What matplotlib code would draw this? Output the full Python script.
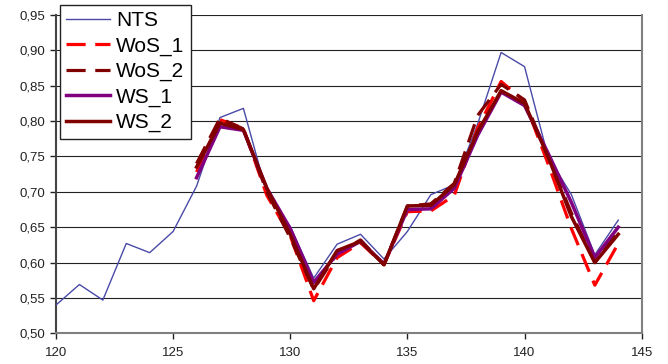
import matplotlib
matplotlib.use("Agg")
import matplotlib.pyplot as plt
from matplotlib.ticker import FuncFormatter, MultipleLocator

x_nts = list(range(120, 145))
nts = [0.540, 0.569, 0.547, 0.627, 0.614, 0.644, 0.708, 0.805, 0.818, 0.698,
       0.651, 0.578, 0.626, 0.640, 0.605, 0.644, 0.696, 0.710, 0.796, 0.897,
       0.877, 0.750, 0.696, 0.611, 0.660]

x_mod = list(range(126, 145))
wos_1 = [0.728, 0.802, 0.790, 0.695, 0.638, 0.546, 0.607, 0.628, 0.597, 0.672,
         0.673, 0.695, 0.790, 0.856, 0.828, 0.740, 0.648, 0.568, 0.627]
wos_2 = [0.740, 0.804, 0.789, 0.700, 0.635, 0.562, 0.613, 0.632, 0.597, 0.680,
         0.683, 0.712, 0.808, 0.852, 0.830, 0.750, 0.670, 0.600, 0.648]
ws_1 = [0.720, 0.792, 0.787, 0.705, 0.648, 0.572, 0.612, 0.630, 0.598, 0.675,
        0.676, 0.705, 0.780, 0.841, 0.822, 0.755, 0.685, 0.607, 0.650]
ws_2 = [0.735, 0.797, 0.788, 0.705, 0.640, 0.563, 0.617, 0.630, 0.597, 0.680,
        0.681, 0.710, 0.785, 0.843, 0.825, 0.750, 0.665, 0.600, 0.640]

plt.rcParams['font.family'] = ['Liberation Sans', 'DejaVu Sans']

fig = plt.figure(figsize=(6.68, 3.64), dpi=100)
ax = fig.add_axes([0.0838, 0.0843, 0.8768, 0.8745])

ax.plot(x_nts, nts, color='#4a4aa8', lw=1.0, label='NTS', zorder=3)
ax.plot(x_mod, wos_1, color='#ff0000', lw=2.3, ls=(0, (6, 3)), label='WoS_1', zorder=4)
ax.plot(x_mod, wos_2, color='#800000', lw=2.3, ls=(0, (6, 3)), label='WoS_2', zorder=4)
ax.plot(x_mod, ws_1, color='#800080', lw=2.5, label='WS_1', zorder=4)
ax.plot(x_mod, ws_2, color='#800000', lw=2.5, label='WS_2', zorder=5)

ax.set_xlim(120, 145)
ax.set_ylim(0.50, 0.95)
ax.xaxis.set_major_locator(MultipleLocator(5))
ax.yaxis.set_major_locator(MultipleLocator(0.05))
ax.yaxis.set_major_formatter(FuncFormatter(lambda v, p: f"{v:.2f}".replace('.', ',')))
ax.grid(axis='y', color='#222222', lw=0.8)
ax.set_axisbelow(True)

ax.spines['top'].set_visible(False)
ax.spines['left'].set_color('#444444')
ax.spines['left'].set_linewidth(1.5)
ax.spines['bottom'].set_color('#808080')
ax.spines['bottom'].set_linewidth(1.5)
ax.spines['right'].set_color('#808080')
ax.spines['right'].set_linewidth(1.5)
ax.tick_params(axis='both', labelsize=9.5, colors='#222222', length=4, width=1)
ax.tick_params(axis='x', pad=6)

leg = fig.legend(loc='upper left', bbox_to_anchor=(0.0898, 0.986), fontsize=15,
                 frameon=True, fancybox=False, edgecolor='#222222', framealpha=1,
                 handlelength=2.1, labelspacing=0.3, borderpad=0.3,
                 handletextpad=0.3, borderaxespad=0)
leg.get_frame().set_linewidth(1.0)

fig.savefig('out.png', dpi=100)
